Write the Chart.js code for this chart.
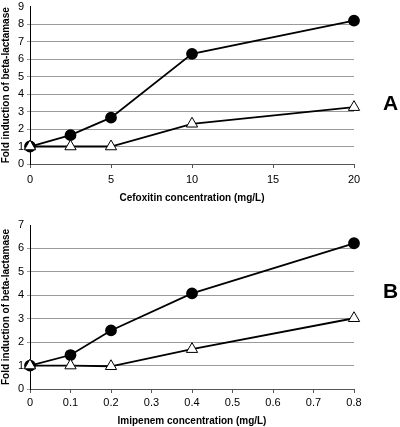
<!DOCTYPE html>
<html>
<head>
<meta charset="utf-8">
<script src="https://cdn.jsdelivr.net/npm/chart.js@4/dist/chart.umd.min.js"></script>
<style>
  body { margin: 0; background: #fff; overflow: hidden; }
  #wrap { position: relative; width: 400px; height: 427px; overflow: hidden; }
  .panel { position: absolute; left: 0; width: 400px; }
  .tag { position: absolute; font: bold 21px "Liberation Sans", Arial, sans-serif; color: #000; }
</style>
</head>
<body>
<div id="wrap">
  <div class="panel" style="top:-3px;height:207px"><canvas id="chartA"></canvas></div>
  <div class="panel" style="top:210px;height:217px"><canvas id="chartB"></canvas></div>
  <div class="tag" style="left:383px;top:91px">A</div>
  <div class="tag" style="left:383px;top:279px">B</div>
</div>
<script>
// Panel A - cefoxitin
var xA = [0, 2.5, 5, 10, 20];
var circlesA = [1, 1.65, 2.65, 6.3, 8.2];
var trianglesA = [1, 1, 1, 2.3, 3.25];
var xTicksA = ["0", "5", "10", "15", "20"];

// Panel B - imipenem
var xB = [0, 0.1, 0.2, 0.4, 0.8];
var circlesB = [1, 1.45, 2.5, 4.08, 6.22];
var trianglesB = [1, 1, 0.97, 1.7, 3.02];
var xTicksB = ["0", "0.1", "0.2", "0.3", "0.4", "0.5", "0.6", "0.7", "0.8"];

var yTitle = "Fold induction of beta-lactamase";
var font = "'Liberation Sans', Arial, sans-serif";

function pts(xs, ys) {
  return xs.map(function (x, i) { return { x: x, y: ys[i] }; });
}

function makeChart(id, xs, c, t, xMax, xStep, xLabels, yMax, xTitle, topPad, xHeight, tickPad) {
  new Chart(id, {
    type: "scatter",
    data: {
      datasets: [{
        data: pts(xs, t),
        showLine: true,
        borderColor: "#000",
        borderWidth: 1.8,
        pointStyle: "triangle",
        pointRadius: 6.5,
        pointBackgroundColor: "#fff",
        pointBorderColor: "#000",
        pointBorderWidth: 1,
        clip: false
      }, {
        data: pts(xs, c),
        showLine: true,
        borderColor: "#000",
        borderWidth: 1.8,
        pointStyle: "circle",
        pointRadius: 5,
        pointBackgroundColor: "#000",
        pointBorderColor: "#000",
        clip: false
      }]
    },
    options: {
      responsive: true,
      maintainAspectRatio: false,
      animation: false,
      layout: { padding: { top: topPad, right: 46, left: 0, bottom: 0 } },
      plugins: { legend: { display: false }, tooltip: { enabled: false } },
      scales: {
        x: {
          type: "linear",
          min: 0, max: xMax,
          afterFit: function (s) { s.height = xHeight; },
          ticks: {
            stepSize: xStep,
            color: "#000",
            padding: tickPad,
            font: { family: font, size: 11 },
            callback: function (v, i) { return xLabels[i]; }
          },
          grid: { drawOnChartArea: false, drawTicks: true, tickLength: 4, color: "#555" },
          border: { color: "#555", width: 1 },
          title: {
            display: true, text: xTitle, color: "#000",
            font: { family: font, size: 10, weight: "bold" },
            padding: { top: 4, bottom: 0 }
          }
        },
        y: {
          min: 0, max: yMax,
          afterFit: function (s) { s.width = 30; },
          ticks: {
            stepSize: 1,
            color: "#000",
            padding: 3,
            font: { family: font, size: 11 }
          },
          grid: {
            color: function (ctx) { return ctx.tick && ctx.tick.value === yMax ? "rgba(0,0,0,0)" : "#9a9a9a"; },
            tickLength: 3
          },
          border: { color: "#000", width: 1 },
          title: {
            display: true, text: yTitle, color: "#000",
            font: { family: font, size: 10, weight: "bold" },
            padding: { top: 0, bottom: 0 }
          }
        }
      }
    }
  });
}

makeChart("chartA", xA, circlesA, trianglesA, 20, 5, xTicksA, 9, "Cefoxitin concentration (mg/L)", 2, 40, 5);
makeChart("chartB", xB, circlesB, trianglesB, 0.8, 0.1, xTicksB, 7, "Imipenem concentration (mg/L)", 15, 38, 3);
</script>
</body>
</html>
